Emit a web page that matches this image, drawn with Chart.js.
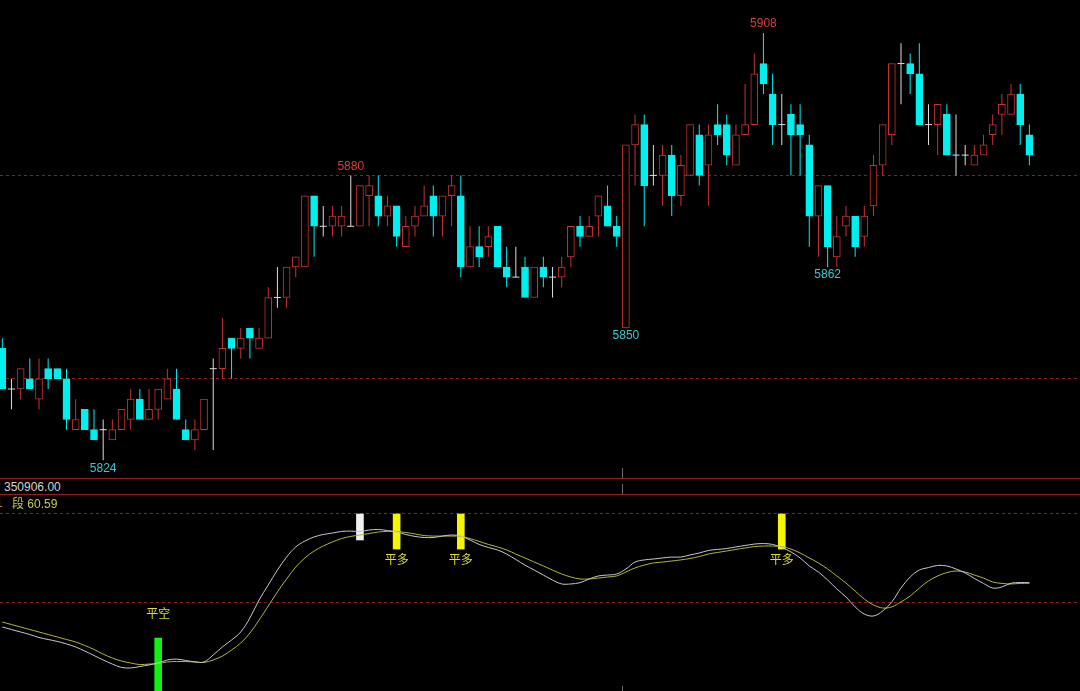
<!DOCTYPE html>
<html>
<head>
<meta charset="utf-8">
<script src="https://cdn.jsdelivr.net/npm/chart.js"></script>
<style>
  html, body { margin: 0; padding: 0; background: #000; }
  #wrap { position: relative; width: 1080px; height: 691px; overflow: hidden; background: #000;
          font-family: "Liberation Sans", Arial, sans-serif; font-size: 12px; }
  #kbox { position: absolute; left: 0; top: 0; width: 1080px; height: 478px; }
  #obox { position: absolute; left: 0; top: 495px; width: 1080px; height: 196px; }
  .rule { position: absolute; left: 0; width: 1080px; height: 1px; background: #961e1e; }
  .tick { position: absolute; width: 1px; background: #6e6e6e; }
  .txt { position: absolute; white-space: nowrap; line-height: 14px; }
</style>
</head>
<body>
<div id="wrap">
  <div id="kbox"><canvas id="kline" width="1080" height="478"></canvas></div>
  <div class="rule" style="top:478px"></div>
  <div class="txt" style="left:4px; top:480px; color:#d2d2d2">350906.00</div>
  <div class="rule" style="top:494px"></div>
  <div id="obox"><canvas id="osc" width="1080" height="196"></canvas></div>
  <div class="txt" style="left:-4px; top:496px; color:#e0783c">1</div>
  <div class="txt" style="left:12px; top:496px; color:#c8c85a"><span style="font-family:'Noto Sans CJK SC'">段</span> 60.59</div>
  <div class="tick" style="left:622px; top:468px; height:10px"></div>
  <div class="tick" style="left:622px; top:484px; height:10px"></div>
  <div class="tick" style="left:622px; top:686px; height:5px"></div>
</div>
<script>
// 5-minute style bars
const opens = [
  5846,5838,5838,5840,5836,5842,5842,5840,5830,5834,
  5830,5830,5828,5830,5832,5836,5832,5834,5836,5838,
  5830,5828,5830,5842,5842,5848,5846,5850,5846,5848,
  5856,5856,5862,5862,5876,5870,5870,5870,5870,5870,
  5876,5876,5872,5874,5866,5870,5872,5876,5872,5876,
  5876,5862,5866,5866,5870,5862,5860,5862,5856,5862,
  5860,5860,5864,5870,5868,5872,5874,5870,5850,5886,
  5890,5880,5880,5884,5876,5880,5888,5882,5890,5890,
  5882,5888,5890,5902,5896,5890,5892,5890,5886,5872,
  5878,5864,5870,5872,5868,5874,5882,5888,5902,5902,
  5900,5890,5890,5892,5884,5884,5882,5884,5888,5892,
  5892,5896,5888
];
const highs = [
  5848,5840,5842,5844,5844,5844,5842,5842,5836,5834,
  5834,5832,5832,5834,5838,5838,5838,5838,5842,5842,
  5832,5832,5836,5844,5852,5848,5850,5850,5850,5858,
  5862,5862,5864,5876,5876,5874,5874,5874,5880,5878,
  5880,5880,5876,5874,5872,5874,5878,5878,5876,5880,
  5880,5870,5870,5870,5870,5866,5866,5864,5862,5864,
  5862,5864,5870,5872,5872,5876,5878,5872,5886,5892,
  5892,5886,5886,5886,5884,5890,5890,5890,5894,5892,
  5890,5898,5904,5908,5900,5896,5894,5894,5888,5878,
  5878,5872,5874,5872,5874,5884,5890,5902,5906,5904,
  5906,5894,5894,5894,5892,5886,5886,5888,5892,5896,
  5898,5898,5890
];
const lows = [
  5838,5834,5836,5838,5834,5838,5840,5830,5830,5830,
  5828,5824,5828,5830,5830,5832,5832,5832,5836,5832,
  5828,5826,5830,5826,5840,5840,5844,5844,5846,5848,
  5854,5854,5860,5862,5864,5868,5868,5868,5870,5870,
  5870,5870,5870,5866,5866,5868,5872,5868,5868,5870,
  5860,5862,5862,5864,5862,5858,5860,5856,5856,5858,
  5856,5858,5862,5866,5868,5868,5870,5866,5850,5878,
  5870,5878,5874,5872,5874,5880,5878,5874,5886,5882,
  5882,5888,5890,5896,5886,5886,5880,5880,5866,5864,
  5862,5862,5868,5864,5866,5872,5880,5886,5894,5896,
  5890,5886,5884,5884,5880,5882,5882,5884,5886,5888,
  5892,5886,5882
];
const closes = [
  5838,5838,5842,5838,5840,5840,5840,5832,5832,5830,
  5828,5830,5830,5834,5836,5832,5834,5838,5840,5832,
  5828,5830,5836,5842,5846,5846,5848,5848,5848,5856,
  5856,5862,5864,5876,5870,5870,5872,5872,5870,5878,
  5878,5872,5874,5868,5870,5872,5874,5872,5876,5878,
  5862,5866,5864,5868,5862,5860,5860,5856,5862,5860,
  5860,5862,5870,5868,5870,5876,5870,5868,5886,5890,
  5878,5880,5884,5876,5882,5890,5880,5888,5888,5884,
  5888,5890,5900,5898,5890,5890,5888,5888,5872,5878,
  5866,5868,5872,5866,5872,5882,5890,5902,5902,5900,
  5890,5890,5894,5884,5884,5884,5884,5886,5890,5894,
  5896,5890,5884
];
const priceGrid = [5840, 5880];

// bars with their high / low printed next to them
const markIdx = [11, 38, 68, 83, 90];
const markSide = ["low", "high", "low", "high", "low"];

// oscillator panel
const fastLine = [
  36.5,35.1,33.7,32.3,30.6,29.5,28.4,27.0,25.3,23.0,
  20.5,18.0,15.7,13.8,13.5,14.3,15.2,16.3,18.0,18.5,
  17.7,16.9,16.9,20.8,25.3,29.2,33.7,41.6,51.7,60.1,
  68.5,75.8,81.5,84.8,87.1,88.5,89.3,90.2,90.4,90.2,
  91.0,91.3,90.7,89.9,88.5,87.4,86.8,86.8,87.6,88.2,
  87.6,85.4,82.9,81.2,79.8,77.5,74.4,71.3,68.5,65.7,
  62.9,60.7,60.7,61.4,63.5,65.2,65.7,66.3,69.1,73.0,
  74.2,74.7,75.3,75.8,75.8,77.0,78.1,79.5,80.1,80.6,
  81.5,82.3,83.1,83.4,82.9,81.2,78.7,75.3,70.8,67.4,
  62.9,57.9,53.4,47.8,43.8,42.7,45.5,50.6,58.4,64.6,
  68.5,69.9,71.1,70.8,69.1,66.9,63.8,61.0,58.4,59.0,
  61.1,61.5,61.4
];
const slowLine = [
  39.3,37.9,36.5,35.1,33.7,32.3,30.9,29.5,28.1,26.1,
  23.9,21.3,19.1,17.4,16.3,15.4,15.7,16.0,16.9,17.1,
  17.1,16.9,16.6,18.0,20.2,23.6,27.5,33.1,40.4,48.3,
  56.2,63.5,70.2,75.3,79.2,82.0,84.3,86.2,87.4,88.2,
  89.0,89.9,90.2,90.2,89.6,88.8,87.9,87.6,87.6,87.6,
  87.4,86.2,84.6,82.9,81.5,79.8,77.5,75.3,73.0,70.8,
  68.5,66.3,64.6,63.5,63.5,64.0,64.6,65.2,67.4,69.7,
  71.3,72.5,73.0,73.6,74.2,75.0,76.1,77.5,78.4,79.2,
  80.1,80.9,81.7,82.0,82.0,81.7,80.3,78.1,75.3,72.5,
  69.1,65.2,61.2,56.7,52.2,48.9,47.2,47.8,50.6,53.9,
  58.4,62.4,65.2,67.1,68.0,67.4,65.7,64.0,61.8,61.0,
  60.7,61.0,61.1
];
const oscGrid = [50, 100];
const sigIdx = [17, 39, 43, 50, 85];
const sigFrom = [0, 85.4, 80.3, 80.3, 80.3];
const sigTo = [30.3, 100, 100, 100, 100];
const sigText = ["平空", "", "平多", "平多", "平多"];

const UP = "#c83232", DOWN = "#00f0f0", FLAT = "#dcdcdc";
const idx = opens.map((_, i) => i);
const kind = idx.map(i => closes[i] > opens[i] ? "up" : closes[i] < opens[i] ? "down" : "flat");
const colorOf = k => k === "up" ? UP : k === "down" ? DOWN : FLAT;
const bodyIdx = idx.filter(i => kind[i] !== "flat");
const dojiIdx = idx.filter(i => kind[i] === "flat");

// same horizontal scale for both panels
const xScale = { type: "linear", min: -0.251, max: 117.52, display: false, offset: false };

const extremes = {
  id: "extremes",
  afterDatasetsDraw(chart) {
    const { ctx, scales: { x, y } } = chart;
    ctx.save();
    ctx.font = '12px "Liberation Sans", Arial, sans-serif';
    ctx.textAlign = "center";
    ctx.textBaseline = "middle";
    markIdx.forEach((i, k) => {
      const top = markSide[k] === "high";
      ctx.fillStyle = top ? "#dc3c3c" : "#3cc8d2";
      const val = top ? highs[i] : lows[i];
      const py = top ? y.getPixelForValue(val) - 9 : y.getPixelForValue(val) + 8;
      ctx.fillText(String(val), x.getPixelForValue(i), py);
    });
    ctx.restore();
  }
};

new Chart(document.getElementById("kline").getContext("2d"), {
  type: "bar",
  data: {
    datasets: [
      {
        label: "wick",
        data: idx.map(i => ({ x: i, y: [lows[i], highs[i]] })),
        backgroundColor: idx.map(i => colorOf(kind[i])),
        borderWidth: 0,
        barThickness: 1,
        inflateAmount: 0,
        grouped: false,
        order: 3
      },
      {
        label: "body",
        data: bodyIdx.map(i => ({ x: i, y: [opens[i], closes[i]] })),
        backgroundColor: bodyIdx.map(i => kind[i] === "up" ? "#000000" : DOWN),
        borderColor: bodyIdx.map(i => colorOf(kind[i])),
        borderWidth: 1,
        borderSkipped: false,
        barThickness: 7,
        grouped: false,
        order: 2
      },
      {
        type: "scatter",
        label: "doji",
        data: dojiIdx.map(i => ({ x: i, y: opens[i] })),
        pointStyle: "line",
        pointRadius: 3.5,
        borderColor: FLAT,
        borderWidth: 1,
        order: 1
      }
    ]
  },
  options: {
    responsive: false,
    animation: false,
    events: [],
    layout: { padding: 0, autoPadding: false },
    plugins: { legend: { display: false }, tooltip: { enabled: false } },
    scales: {
      x: xScale,
      y: {
        min: 5820.5,
        max: 5914.5,
        afterBuildTicks: s => { s.ticks = priceGrid.map(v => ({ value: v })); },
        ticks: { display: false },
        grid: { color: "#8c1e1e", drawTicks: false, lineWidth: 1 },
        border: { display: false, dash: [3, 3] }
      }
    }
  },
  plugins: [extremes]
});

const signalText = {
  id: "signalText",
  afterDatasetsDraw(chart) {
    const { ctx, scales: { x, y } } = chart;
    ctx.save();
    ctx.font = '12px "Noto Sans CJK SC", sans-serif';
    ctx.textAlign = "center";
    ctx.textBaseline = "middle";
    ctx.fillStyle = "#dcdc3c";
    sigIdx.forEach((i, k) => {
      if (!sigText[k]) return;
      const py = sigText[k] === "平空" ? y.getPixelForValue(sigTo[k]) - 25 : y.getPixelForValue(sigFrom[k]) + 10;
      ctx.fillText(sigText[k], x.getPixelForValue(i), py);
    });
    ctx.restore();
  }
};

const sigColor = t => t === "平空" ? "#14f014" : t === "平多" ? "#f5f500" : "#f0f0f0";

new Chart(document.getElementById("osc").getContext("2d"), {
  type: "bar",
  data: {
    datasets: [
      {
        label: "signal",
        data: sigIdx.map((i, k) => ({ x: i, y: [sigFrom[k], sigTo[k]] })),
        backgroundColor: sigText.map(sigColor),
        borderWidth: 0,
        barThickness: 7,
        grouped: false,
        order: 3
      },
      {
        type: "line",
        label: "fast",
        data: idx.map(i => ({ x: i, y: fastLine[i] })),
        borderColor: "#c8c8c8",
        borderWidth: 1,
        pointRadius: 0,
        tension: 0.35,
        order: 1
      },
      {
        type: "line",
        label: "slow",
        data: idx.map(i => ({ x: i, y: slowLine[i] })),
        borderColor: "#b4b43c",
        borderWidth: 1,
        pointRadius: 0,
        tension: 0.35,
        order: 2
      }
    ]
  },
  options: {
    responsive: false,
    animation: false,
    events: [],
    layout: { padding: 0, autoPadding: false },
    plugins: { legend: { display: false }, tooltip: { enabled: false } },
    scales: {
      x: xScale,
      y: {
        min: 0.56,
        max: 110.67,
        afterBuildTicks: s => { s.ticks = oscGrid.map(v => ({ value: v })); },
        ticks: { display: false },
        grid: { color: "#8c1e1e", drawTicks: false, lineWidth: 1 },
        border: { display: false, dash: [3, 3] }
      }
    }
  },
  plugins: [signalText]
});
</script>
</body>
</html>
